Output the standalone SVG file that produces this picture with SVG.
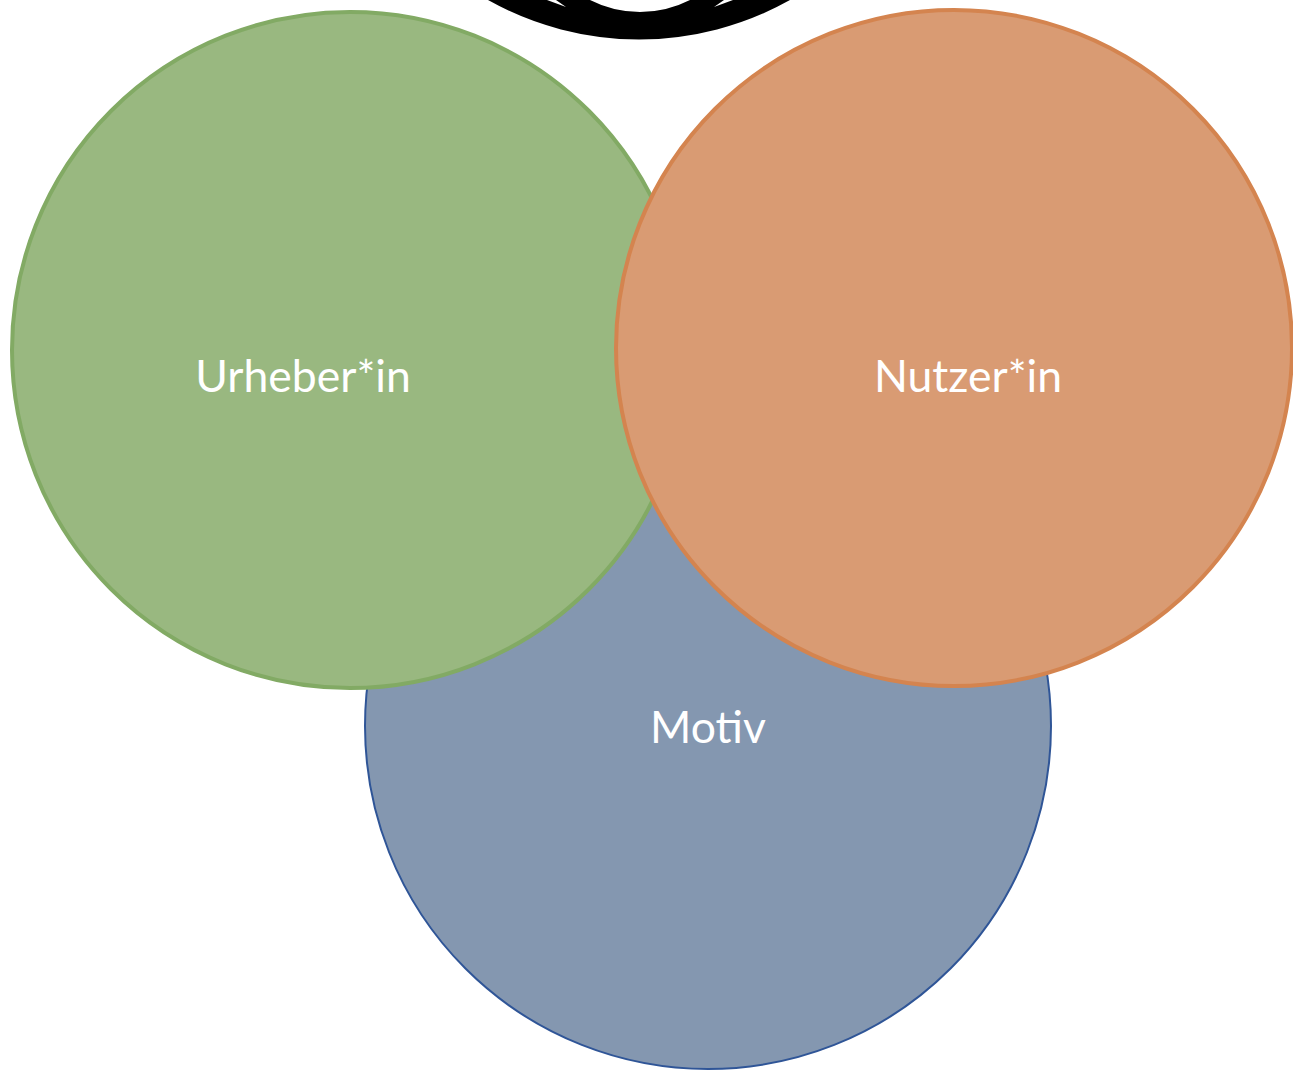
<svg xmlns="http://www.w3.org/2000/svg" width="1293" height="1070" viewBox="0 0 1293 1070">
<style>
.lbl{font-family:Lato,"Liberation Sans",sans-serif;font-size:44.5px;fill:#ffffff;text-anchor:middle}
</style>
<rect width="1293" height="1070" fill="#ffffff"/>
<g id="connectors">
<path d="M488,0 A309,309 0 0 0 790,0 L733,0 L714,7 L724,0 L690,0 A110,110 0 0 1 590,0 L556,0 L566,7 L547,0 Z" fill="#000000"/>
</g>
<g id="node-motiv">
<circle cx="708" cy="726" r="343" fill="#8497B0" stroke="#2F5597" stroke-width="2"/>
<text class="lbl" x="708" y="743">Motiv</text>
</g>
<g id="node-urheber">
<circle cx="350" cy="350" r="338" fill="#99B880" stroke="#82AA64" stroke-width="4"/>
<text class="lbl" x="303" y="392">Urheber*in</text>
</g>
<g id="node-nutzer">
<circle cx="954" cy="348" r="338" fill="#D99B73" stroke="#D4844F" stroke-width="4"/>
<text class="lbl" x="968" y="392">Nutzer*in</text>
</g>
</svg>
